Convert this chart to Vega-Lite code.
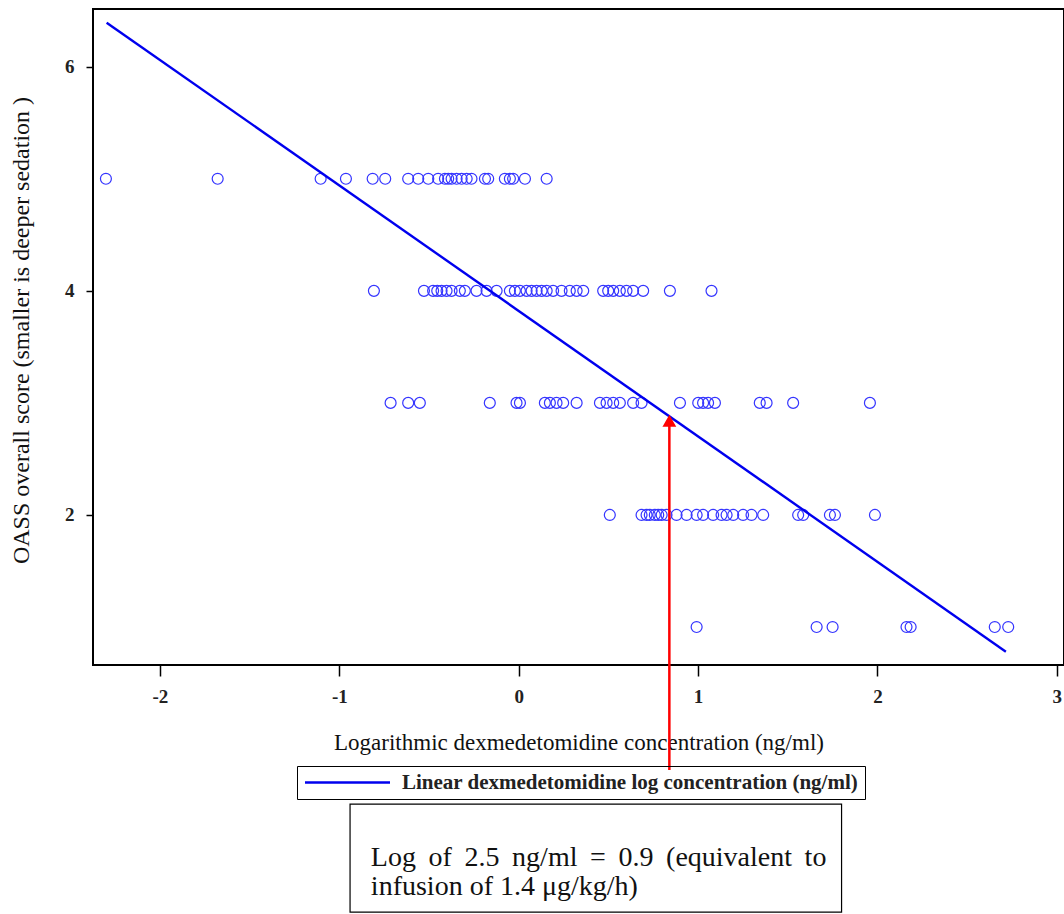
{
  "$schema": "https://vega.github.io/schema/vega-lite/v6.json",
  "width": 971,
  "height": 656,
  "autosize": {"type": "none"},
  "padding": {"left": 93, "top": 9, "right": 0, "bottom": 249},
  "background": "white",
  "config": {
    "view": {"stroke": "black", "strokeWidth": 2},
    "font": "Liberation Serif"
  },
  "datasets": {
    "pts": [
      {"logc": -2.301, "score": 5}, {"logc": -1.678, "score": 5}, {"logc": -1.104, "score": 5}, {"logc": -0.963, "score": 5},
      {"logc": -0.814, "score": 5}, {"logc": -0.744, "score": 5}, {"logc": -0.616, "score": 5}, {"logc": -0.56, "score": 5},
      {"logc": -0.504, "score": 5}, {"logc": -0.449, "score": 5}, {"logc": -0.411, "score": 5}, {"logc": -0.393, "score": 5},
      {"logc": -0.374, "score": 5}, {"logc": -0.346, "score": 5}, {"logc": -0.318, "score": 5}, {"logc": -0.29, "score": 5},
      {"logc": -0.263, "score": 5}, {"logc": -0.188, "score": 5}, {"logc": -0.17, "score": 5}, {"logc": -0.077, "score": 5},
      {"logc": -0.049, "score": 5}, {"logc": -0.031, "score": 5}, {"logc": 0.035, "score": 5}, {"logc": 0.156, "score": 5},
      {"logc": -0.807, "score": 4}, {"logc": -0.528, "score": 4}, {"logc": -0.477, "score": 4}, {"logc": -0.454, "score": 4},
      {"logc": -0.43, "score": 4}, {"logc": -0.402, "score": 4}, {"logc": -0.374, "score": 4}, {"logc": -0.328, "score": 4},
      {"logc": -0.3, "score": 4}, {"logc": -0.235, "score": 4}, {"logc": -0.179, "score": 4}, {"logc": -0.123, "score": 4},
      {"logc": -0.049, "score": 4}, {"logc": -0.021, "score": 4}, {"logc": 0.007, "score": 4}, {"logc": 0.044, "score": 4},
      {"logc": 0.072, "score": 4}, {"logc": 0.1, "score": 4}, {"logc": 0.128, "score": 4}, {"logc": 0.156, "score": 4},
      {"logc": 0.192, "score": 4}, {"logc": 0.239, "score": 4}, {"logc": 0.285, "score": 4}, {"logc": 0.323, "score": 4},
      {"logc": 0.36, "score": 4}, {"logc": 0.471, "score": 4}, {"logc": 0.499, "score": 4}, {"logc": 0.527, "score": 4},
      {"logc": 0.564, "score": 4}, {"logc": 0.601, "score": 4}, {"logc": 0.638, "score": 4}, {"logc": 0.694, "score": 4},
      {"logc": 0.843, "score": 4}, {"logc": 1.075, "score": 4},
      {"logc": -0.714, "score": 3}, {"logc": -0.616, "score": 3}, {"logc": -0.551, "score": 3}, {"logc": -0.161, "score": 3},
      {"logc": -0.012, "score": 3}, {"logc": 0.007, "score": 3}, {"logc": 0.146, "score": 3}, {"logc": 0.174, "score": 3},
      {"logc": 0.211, "score": 3}, {"logc": 0.248, "score": 3}, {"logc": 0.323, "score": 3}, {"logc": 0.453, "score": 3},
      {"logc": 0.49, "score": 3}, {"logc": 0.527, "score": 3}, {"logc": 0.564, "score": 3}, {"logc": 0.638, "score": 3},
      {"logc": 0.685, "score": 3}, {"logc": 0.899, "score": 3}, {"logc": 1.001, "score": 3}, {"logc": 1.028, "score": 3},
      {"logc": 1.056, "score": 3}, {"logc": 1.094, "score": 3}, {"logc": 1.344, "score": 3}, {"logc": 1.382, "score": 3},
      {"logc": 1.53, "score": 3}, {"logc": 1.958, "score": 3},
      {"logc": 0.508, "score": 2}, {"logc": 0.685, "score": 2}, {"logc": 0.713, "score": 2}, {"logc": 0.731, "score": 2},
      {"logc": 0.759, "score": 2}, {"logc": 0.778, "score": 2}, {"logc": 0.797, "score": 2}, {"logc": 0.824, "score": 2},
      {"logc": 0.88, "score": 2}, {"logc": 0.936, "score": 2}, {"logc": 0.992, "score": 2}, {"logc": 1.028, "score": 2},
      {"logc": 1.084, "score": 2}, {"logc": 1.131, "score": 2}, {"logc": 1.159, "score": 2}, {"logc": 1.196, "score": 2},
      {"logc": 1.251, "score": 2}, {"logc": 1.298, "score": 2}, {"logc": 1.363, "score": 2}, {"logc": 1.558, "score": 2},
      {"logc": 1.586, "score": 2}, {"logc": 1.735, "score": 2}, {"logc": 1.763, "score": 2}, {"logc": 1.986, "score": 2},
      {"logc": 0.992, "score": 1}, {"logc": 1.661, "score": 1}, {"logc": 1.75, "score": 1}, {"logc": 2.162, "score": 1},
      {"logc": 2.185, "score": 1}, {"logc": 2.654, "score": 1}, {"logc": 2.729, "score": 1}
    ],
    "fit": [
      {"logc": -2.297, "score": 6.393, "series": "Linear dexmedetomidine log concentration (ng/ml)"},
      {"logc": 2.716, "score": 0.78, "series": "Linear dexmedetomidine log concentration (ng/ml)"}
    ],
    "arrow": [
      {"logc": 0.84, "from": -0.276, "to": 2.84}
    ],
    "note": [
      {"x1": -0.94, "x2": 1.80, "y1": -0.58, "y2": -1.545, "tx": -0.824, "ty": -1.13}
    ]
  },
  "layer": [
    {
      "data": {"name": "pts"},
      "mark": {"type": "point", "shape": "circle", "size": 120, "filled": false, "color": "#3535ff", "strokeWidth": 1.2, "opacity": 1},
      "encoding": {
        "x": {
          "field": "logc", "type": "quantitative",
          "scale": {"domain": [-2.373, 3.04], "nice": false, "zero": false},
          "axis": {
            "values": [-2, -1, 0, 1, 2, 3],
            "labelExpr": "'' + datum.value",
            "domain": false, "grid": false,
            "tickColor": "black", "tickSize": 11, "tickWidth": 1.5,
            "labelFont": "Liberation Serif", "labelFontSize": 19, "labelFontWeight": "bold", "labelColor": "#222",
            "labelPadding": 11, "labelFlush": false, "labelBound": false,
            "title": "Logarithmic dexmedetomidine concentration (ng/ml)",
            "titleFont": "Liberation Serif", "titleFontSize": 23, "titleFontWeight": "normal", "titleColor": "#111",
            "titleBaseline": "alphabetic", "titleY": 84
          }
        },
        "y": {
          "field": "score", "type": "quantitative",
          "scale": {"domain": [0.661, 6.515], "nice": false, "zero": false},
          "axis": {
            "values": [2, 4, 6],
            "labelExpr": "'' + datum.value",
            "domain": false, "grid": false,
            "tickColor": "black", "tickSize": 7, "tickWidth": 1.5,
            "labelFont": "Liberation Serif", "labelFontSize": 19, "labelFontWeight": "bold", "labelColor": "#222",
            "labelPadding": 12,
            "title": "OASS overall score (smaller is deeper sedation )",
            "titleFont": "Liberation Serif", "titleFontSize": 24, "titleFontWeight": "normal", "titleColor": "#111",
            "titleAngle": -90, "titleBaseline": "alphabetic", "titleX": -65, "titleY": 321
          }
        }
      }
    },
    {
      "data": {"name": "fit"},
      "mark": {"type": "line", "strokeWidth": 2.4},
      "encoding": {
        "x": {"field": "logc", "type": "quantitative"},
        "y": {"field": "score", "type": "quantitative"},
        "color": {
          "field": "series", "type": "nominal",
          "scale": {"range": ["#0000ee"]},
          "legend": {
            "title": null, "orient": "none", "legendX": 204, "legendY": 757,
            "symbolType": "M-1,0H9", "symbolSize": 289, "symbolStrokeWidth": 2.4,
            "labelFont": "Liberation Serif", "labelFontSize": 21, "labelFontWeight": "bold", "labelColor": "#222",
            "labelOffset": 78, "labelLimit": 900,
            "strokeColor": "black", "padding": 6
          }
        }
      }
    },
    {
      "data": {"name": "note"},
      "mark": {"type": "rect", "fill": "white", "fillOpacity": 0, "stroke": "black", "strokeWidth": 1.2, "clip": false},
      "encoding": {
        "x": {"field": "x1", "type": "quantitative"},
        "x2": {"field": "x2"},
        "y": {"field": "y1", "type": "quantitative"},
        "y2": {"field": "y2"}
      }
    },
    {
      "data": {"name": "note"},
      "mark": {
        "type": "text", "align": "left", "baseline": "alphabetic", "clip": false,
        "font": "Liberation Serif", "fontSize": 28, "color": "#111", "lineHeight": 29,
        "text": ["Log \u2009of \u20092.5 \u2009ng/ml \u2009= \u20090.9 \u2009(equivalent \u2009to", "infusion of 1.4 μg/kg/h)"]
      },
      "encoding": {
        "x": {"field": "tx", "type": "quantitative"},
        "y": {"field": "ty", "type": "quantitative"}
      }
    },
    {
      "data": {"name": "arrow"},
      "mark": {"type": "rule", "color": "#ff0000", "strokeWidth": 2.5, "clip": false},
      "encoding": {
        "x": {"field": "logc", "type": "quantitative"},
        "y": {"field": "from", "type": "quantitative"},
        "y2": {"field": "to"}
      }
    },
    {
      "data": {"name": "arrow"},
      "mark": {"type": "point", "shape": "triangle-up", "size": 190, "filled": true, "color": "#ff0000", "opacity": 1},
      "encoding": {
        "x": {"field": "logc", "type": "quantitative"},
        "y": {"field": "to", "type": "quantitative"}
      }
    }
  ]
}
